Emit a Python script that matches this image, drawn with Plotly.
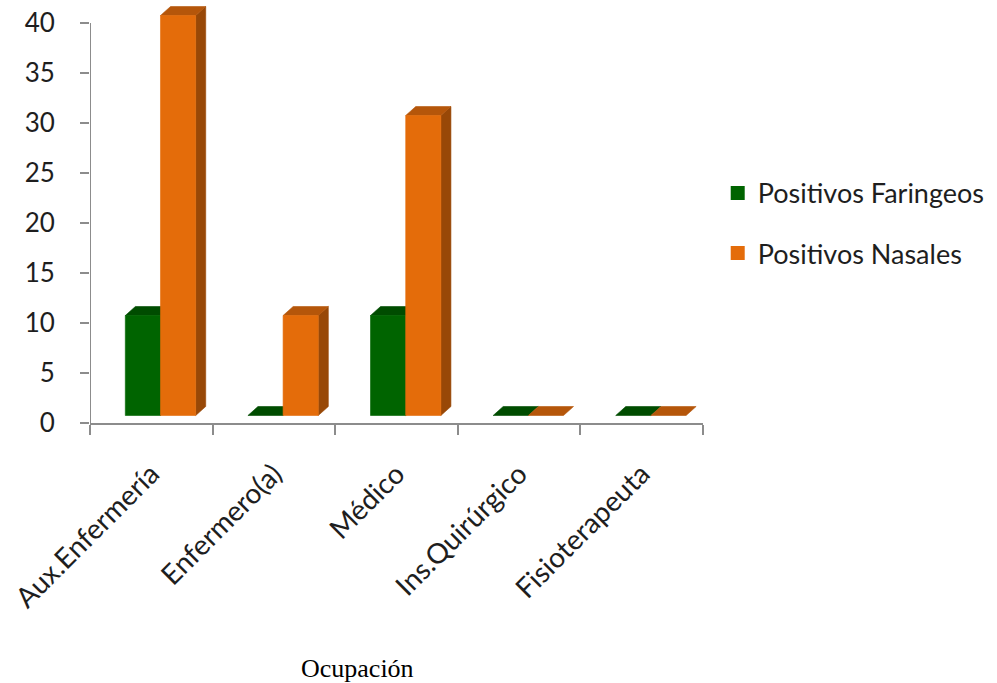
import plotly.graph_objects as go

# Data
categorias = ["Aux.Enfermería", "Enfermero(a)", "Médico", "Ins.Quirúrgico", "Fisioterapeuta"]
faringeos = [10, 0, 10, 0, 0]
nasales = [40, 10, 30, 0, 0]
y_ticks = [0, 5, 10, 15, 20, 25, 30, 35, 40]

# 3D-look bar geometry (in axis units)
BAR_W = 0.287      # front face width per bar
GROUP_OFF = -0.212 # left edge of first bar relative to category centre
DX = 0.082         # depth offset along x
DY = 0.9           # depth offset along y
LIFT = 0.75        # floor elevation of bar fronts

series = [
    ("Positivos Faringeos", faringeos, "#006400", "#004c00", "#003d00"),
    ("Positivos Nasales", nasales, "#e46c0a", "#b5560a", "#984807"),
]

fig = go.Figure()


def poly(xs, ys, color):
    fig.add_trace(go.Scatter(
        x=xs + [xs[0]], y=ys + [ys[0]], mode="lines", fill="toself",
        fillcolor=color, line=dict(color=color, width=0.6),
        hoverinfo="skip", showlegend=False, xaxis="x", yaxis="y"))


for i, _ in enumerate(categorias):
    for k, (name, vals, c_front, c_top, c_side) in enumerate(series):
        v = vals[i]
        x0 = i + GROUP_OFF + k * BAR_W
        x1 = x0 + BAR_W
        yb = LIFT
        yt = v + LIFT
        # side face
        if v > 0:
            poly([x1, x1, x1 + DX, x1 + DX], [yb, yt, yt + DY, yb + DY], c_side)
        # top face
        poly([x0, x0 + DX, x1 + DX, x1], [yt, yt + DY, yt + DY, yt], c_top)
        # front face
        if v > 0:
            poly([x0, x0, x1, x1], [yb, yt, yt, yb], c_front)

# Legend entries
for k, (name, vals, c_front, c_top, c_side) in enumerate(series):
    fig.add_trace(go.Scatter(
        x=[None], y=[None], mode="markers", name=name, legendgroup=name,
        marker=dict(symbol="square", size=14, color=c_front)))

# Category labels on an overlaid axis so tick marks can sit on boundaries
fig.add_trace(go.Scatter(x=[0, 4], y=[None, None], xaxis="x2", yaxis="y",
                         showlegend=False, hoverinfo="skip"))

axis_grey = "#8c8c8c"
text_col = "#1e1e1e"
font_main = "Lato, 'Open Sans', sans-serif"

fig.add_shape(type="line", xref="x", yref="y", x0=-0.5, x1=-0.5, y0=0, y1=max(y_ticks),
              line=dict(color=axis_grey, width=2), layer="below")

fig.update_layout(
    width=997, height=683,
    margin=dict(l=90, r=294, t=3, b=260),
    plot_bgcolor="white", paper_bgcolor="white",
    font=dict(family=font_main, color=text_col),
    xaxis=dict(range=[-0.5, 4.5], showgrid=False, zeroline=False,
               showline=True, linecolor=axis_grey, linewidth=2,
               ticks="outside", ticklen=10, tickwidth=2, tickcolor=axis_grey,
               tickvals=[-0.5, 0.5, 1.5, 2.5, 3.5, 4.5], ticktext=[""] * 6),
    xaxis2=dict(overlaying="x", matches="x", anchor="y", side="bottom",
                showgrid=False, zeroline=False, showline=False, ticks="",
                tickvals=list(range(len(categorias))), ticktext=categorias,
                tickangle=-45, tickfont=dict(size=28, family=font_main, color=text_col),
                ticklabelstandoff=28),
    yaxis=dict(range=[0, 42], showgrid=False, zeroline=False, showline=False,
               ticks="outside", ticklen=9, tickwidth=2, tickcolor=axis_grey,
               ticklabelstandoff=20,
               tickvals=y_ticks, tickfont=dict(size=26, family=font_main, color=text_col)),
    legend=dict(x=1.024, y=0.605, xanchor="left", yanchor="top",
                font=dict(size=27, family=font_main, color=text_col),
                traceorder="grouped", tracegroupgap=22, itemwidth=30),
    showlegend=True,
    annotations=[dict(text="Ocupación", xref="paper", yref="paper", x=(357 - 90) / 613,
                      y=-(668 - 423) / 420, xanchor="center", yanchor="middle",
                      showarrow=False,
                      font=dict(size=26, family="'Liberation Serif', 'Times New Roman', serif",
                                color="#000000"))],
)

fig.write_html("out.html")
